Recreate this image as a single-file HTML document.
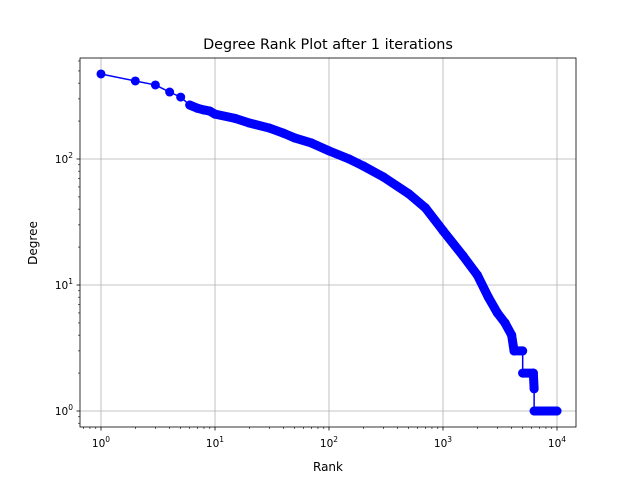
<!DOCTYPE html>
<html><head><meta charset="utf-8"><style>
body{margin:0;background:#fff;font-family:"Liberation Sans","DejaVu Sans",sans-serif}
svg text{font-family:"DejaVu Sans","Liberation Sans",sans-serif}
</style></head><body>
<svg id="chart" width="640" height="480" viewBox="0 0 640 480" xmlns="http://www.w3.org/2000/svg">
<rect width="640" height="480" fill="#fff"/>
<text x="328" y="49" font-size="14.4" text-anchor="middle">Degree Rank Plot after 1 iterations</text>
<g id="grid"></g>
<g id="series"></g>
<rect x="80" y="58" width="496" height="369" fill="none" stroke="#000" stroke-width="0.8"/>
<g id="axes"></g>
<text x="328" y="471" font-size="12" text-anchor="middle">Rank</text>
<text transform="translate(37,243) rotate(-90)" font-size="12" text-anchor="middle">Degree</text>
</svg>
<script>
const ranks   = [1,2,3,4,5,6,7,8,9,10,15,20,30,40,50,70,100,150,200,300,500,700,1000,1500,2000,2500,3000,3500,4000,4200,5000,5000,6200,6300,6300,10000];
const degrees = [473,416,387,340,310,268,253,245,240,227,210,193,176,160,147,134,116,100,88,72,53,41,27,17,12,8,6,5,4,3,3,2,2,1.5,1,1];
const xTickExps = [0,1,2,3,4];
const yTickExps = [0,1,2];

const NS="http://www.w3.org/2000/svg";
const x0=101, xPer=114, y0=411, yPer=126;
const X=r=>x0+Math.log10(r)*xPer;
const Y=d=>y0-Math.log10(d)*yPer;
function mk(tag,attrs,parent){const e=document.createElementNS(NS,tag);for(const k in attrs)e.setAttribute(k,attrs[k]);parent.appendChild(e);return e;}
const grid=document.getElementById('grid'),axes=document.getElementById('axes'),series=document.getElementById('series');

xTickExps.forEach(p=>{
  const x=X(Math.pow(10,p));
  const g=mk('line',{x1:x,x2:x,y1:58,y2:427,stroke:'#b0b0b0','stroke-width':0.8},grid);
  
  
  mk('line',{x1:x,x2:x,y1:427,y2:430.5,stroke:'#000','stroke-width':0.8},axes);
  const t=mk('text',{x:x,y:447,'font-size':10.5,'text-anchor':'middle'},axes);
  
  
  t.innerHTML='10<tspan dy="-5" font-size="7.5">'+p+'</tspan>';
});
for(let p=-1;p<5;p++)for(let m=2;m<10;m++){const x=X(m*Math.pow(10,p));if(x>80&&x<576)mk('line',{x1:x,x2:x,y1:427,y2:429,stroke:'#000','stroke-width':0.6},axes);}
yTickExps.forEach(p=>{
  const y=Y(Math.pow(10,p));
  const g=mk('line',{x1:80,x2:576,y1:y,y2:y,stroke:'#b0b0b0','stroke-width':0.8},grid);
  
  
  mk('line',{x1:76.5,x2:80,y1:y,y2:y,stroke:'#000','stroke-width':0.8},axes);
  const t=mk('text',{x:73,y:y+4,'font-size':10.5,'text-anchor':'end'},axes);
  
  
  t.innerHTML='10<tspan dy="-5" font-size="7.5">'+p+'</tspan>';
});
for(let p=-1;p<3;p++)for(let m=2;m<10;m++){const y=Y(m*Math.pow(10,p));if(y>58&&y<427)mk('line',{x1:78,x2:80,y1:y,y2:y,stroke:'#000','stroke-width':0.6},axes);}

const line=mk('polyline',{points:ranks.map((r,i)=>X(r)+','+Y(degrees[i])).join(' '),fill:'none',stroke:'#0000ff','stroke-width':1.5},series);


for(let i=1;i<ranks.length;i++){
  if(ranks[i-1]<6||ranks[i]===ranks[i-1])continue;
  const s=mk('line',{x1:X(ranks[i-1]),y1:Y(degrees[i-1]),x2:X(ranks[i]),y2:Y(degrees[i]),stroke:'#0000ff','stroke-width':9,'stroke-linecap':'round'},series);
  
  
}
ranks.forEach((r,i)=>{
  const c=mk('circle',{cx:X(r),cy:Y(degrees[i]),r:4.5,fill:'#0000ff'},series);
  
  
});
</script>
</body></html>
